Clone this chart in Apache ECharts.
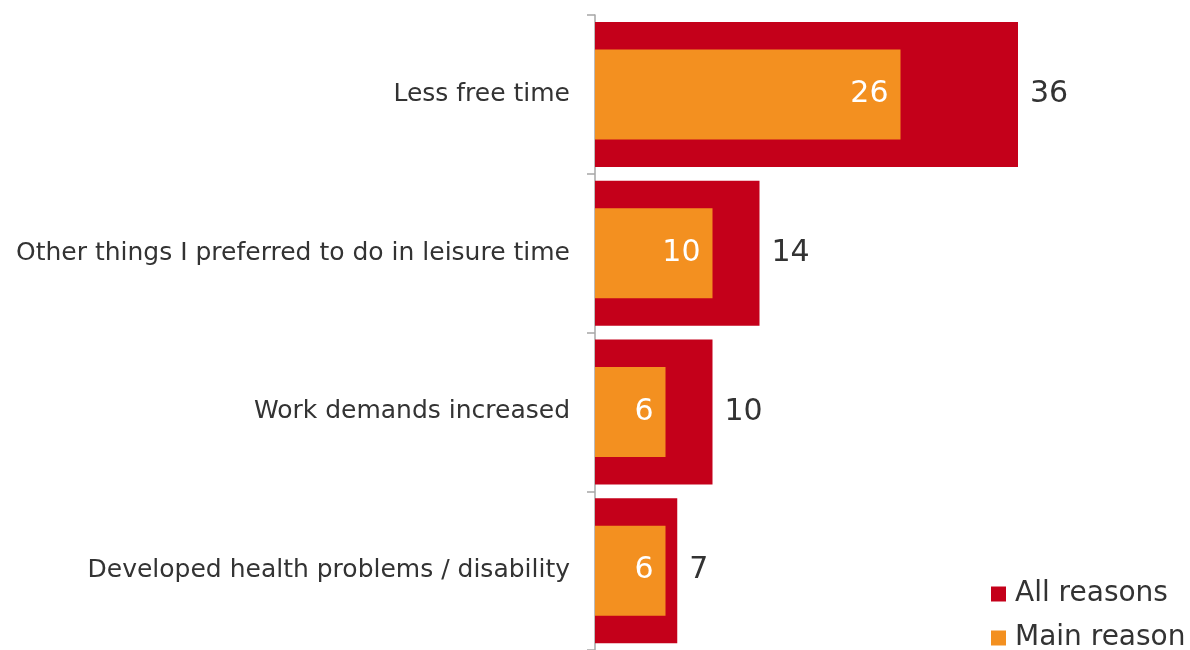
<!DOCTYPE html>
<html>
<head>
<meta charset="utf-8">
<script src="https://cdn.jsdelivr.net/npm/echarts@6/dist/echarts.min.js"></script>
<style>
  html, body { margin: 0; padding: 0; background: #fff; }
  #chart { width: 1190px; height: 650px; }
</style>
</head>
<body>
<div id="chart"></div>
<script>
// Reasons for stopping, share of respondents (%)
const categories = [
  'Less free time',
  'Other things I preferred to do in leisure time',
  'Work demands increased',
  'Developed health problems / disability'
];
const allReasons = [36, 14, 10, 7];
const mainReason = [26, 10, 6, 6];
const seriesNames = ['All reasons', 'Main reason'];

const FONT = 'DejaVu Sans';
const TEXT = '#333333';

const chart = echarts.init(document.getElementById('chart'), null, { renderer: 'canvas' });

// one legend block per entry, stacked in the lower right corner
function legendEntry(name, top) {
  return {
    orient: 'vertical',
    left: 991,
    top: top,
    padding: 0,
    itemWidth: 15,
    itemHeight: 15,
    icon: 'rect',
    data: [name],
    textStyle: { color: TEXT, fontSize: 28, fontFamily: FONT, lineHeight: 30, padding: [0, 0, 0, 4] }
  };
}

// the wide and narrow bars each sit on their own category axis so both are centred in the band
const axisBase = {
  type: 'category',
  data: categories,
  inverse: true
};

chart.setOption({
  animation: false,
  backgroundColor: '#ffffff',
  textStyle: { fontFamily: FONT },
  grid: { left: 595, top: 15, width: 470, bottom: 0, containLabel: false },
  xAxis: {
    type: 'value',
    min: 0,
    max: 40,
    show: false
  },
  yAxis: [
    Object.assign({}, axisBase, {
      axisLine: { show: true, lineStyle: { color: '#a6a6a6', width: 1.5 } },
      axisTick: { show: true, length: 8, lineStyle: { color: '#a6a6a6', width: 1.5 } },
      axisLabel: { margin: 25, color: TEXT, fontSize: 25, fontFamily: FONT }
    }),
    Object.assign({}, axisBase, {
      position: 'left',
      show: false
    })
  ],
  legend: [legendEntry(seriesNames[0], 579), legendEntry(seriesNames[1], 623)],
  series: [
    {
      name: seriesNames[0],
      type: 'bar',
      yAxisIndex: 0,
      data: allReasons,
      barWidth: 145,
      itemStyle: { color: '#c4001a' },
      label: {
        show: true,
        position: 'right',
        distance: 12,
        color: TEXT,
        fontSize: 30,
        fontFamily: FONT
      },
      z: 1
    },
    {
      name: seriesNames[1],
      type: 'bar',
      yAxisIndex: 1,
      data: mainReason,
      barWidth: 90,
      itemStyle: { color: '#f39020' },
      label: {
        show: true,
        position: 'insideRight',
        distance: 12,
        color: '#ffffff',
        fontSize: 30,
        fontFamily: FONT
      },
      z: 2
    }
  ]
});
</script>
</body>
</html>
